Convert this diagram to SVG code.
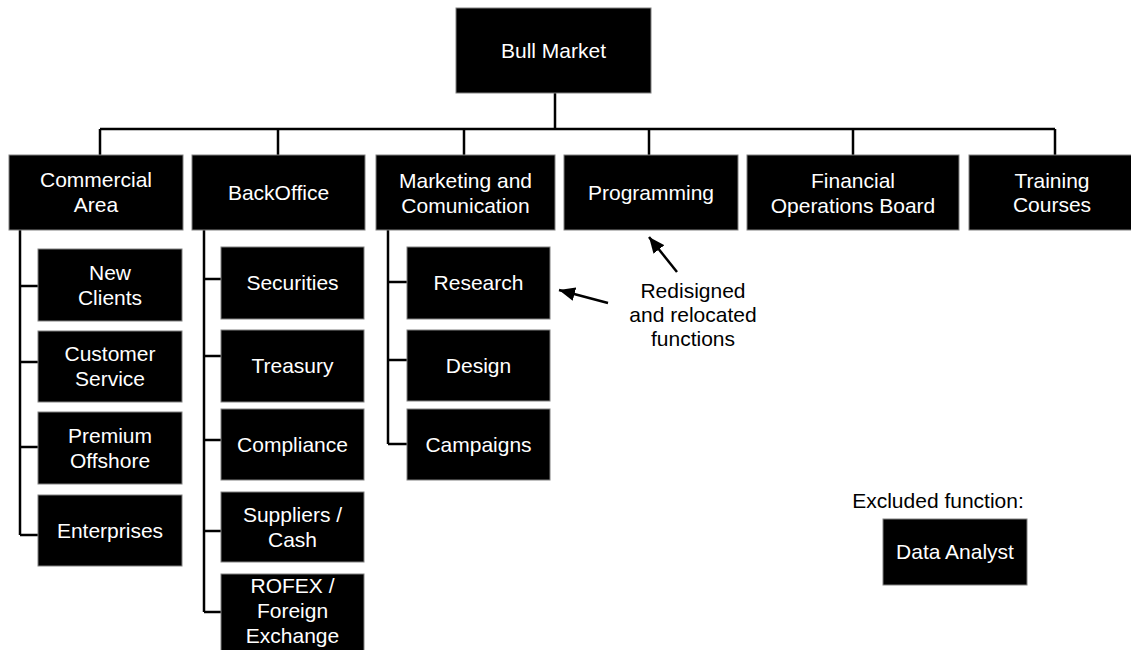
<svg xmlns="http://www.w3.org/2000/svg" width="1131" height="650" viewBox="0 0 1131 650">
<style>
.box{fill:#000;stroke:#808080;stroke-width:1}
.t{fill:#fff;font-family:"Liberation Sans",Arial,sans-serif;font-size:21px;text-anchor:middle}
.k{fill:#000;font-family:"Liberation Sans",Arial,sans-serif;font-size:21px;text-anchor:middle}
.ln{fill:none;stroke:#000;stroke-width:2.5}
</style>
<defs>
<marker id="ah" markerUnits="userSpaceOnUse" markerWidth="17" markerHeight="14" refX="16" refY="7" orient="auto">
<path d="M0,0 L16,7 L0,14 z" fill="#000"/>
</marker>
</defs>
<rect width="1131" height="650" fill="#fff"/>
<g id="connectors">
<path class="ln" d="M555,93 V129 M100,129 H1055 M100,129 V155 M278,129 V155 M464,129 V155 M649,129 V155 M853,129 V155 M1055,129 V155"/>
<path class="ln" d="M20,230 V535 M20,286 H38 M20,362 H38 M20,447 H38 M20,535 H38"/>
<path class="ln" d="M204,230 V612 M204,279 H221 M204,356 H221 M204,440 H221 M204,531 H221 M204,612 H221"/>
<path class="ln" d="M388,230 V444 M388,282 H407 M388,360 H407 M388,444 H407"/>
<line class="ln" x1="608" y1="303" x2="559" y2="290" marker-end="url(#ah)"/>
<line class="ln" x1="677" y1="272" x2="649" y2="237" marker-end="url(#ah)"/>
</g>
<g id="bull-market"><rect class="box" x="456" y="8" width="195" height="85"/><text class="t" x="553.5" y="58">Bull Market</text></g>
<g id="commercial-area"><rect class="box" x="9" y="155" width="174" height="75"/><text class="t" x="96" y="187">Commercial</text><text class="t" x="96" y="212">Area</text></g>
<g id="backoffice"><rect class="box" x="192" y="155" width="173" height="75"/><text class="t" x="278.5" y="200">BackOffice</text></g>
<g id="marketing"><rect class="box" x="376" y="155" width="179" height="75"/><text class="t" x="465.5" y="188">Marketing and</text><text class="t" x="465.5" y="213">Comunication</text></g>
<g id="programming"><rect class="box" x="564" y="155" width="174" height="75"/><text class="t" x="651" y="200">Programming</text></g>
<g id="financial"><rect class="box" x="747" y="155" width="212" height="75"/><text class="t" x="853" y="188">Financial</text><text class="t" x="853" y="213">Operations Board</text></g>
<g id="training"><rect class="box" x="969" y="155" width="170" height="75"/><text class="t" x="1052" y="188">Training</text><text class="t" x="1052" y="212">Courses</text></g>
<g id="new-clients"><rect class="box" x="38" y="249" width="144" height="72"/><text class="t" x="110" y="280">New</text><text class="t" x="110" y="305">Clients</text></g>
<g id="customer-service"><rect class="box" x="38" y="331" width="144" height="71"/><text class="t" x="110" y="361">Customer</text><text class="t" x="110" y="386">Service</text></g>
<g id="premium-offshore"><rect class="box" x="38" y="412" width="144" height="72"/><text class="t" x="110" y="443">Premium</text><text class="t" x="110" y="468">Offshore</text></g>
<g id="enterprises"><rect class="box" x="38" y="495" width="144" height="71"/><text class="t" x="110" y="538">Enterprises</text></g>
<g id="securities"><rect class="box" x="221" y="247" width="143" height="72"/><text class="t" x="292.5" y="290">Securities</text></g>
<g id="treasury"><rect class="box" x="221" y="330" width="143" height="72"/><text class="t" x="292.5" y="373">Treasury</text></g>
<g id="compliance"><rect class="box" x="221" y="409" width="143" height="71"/><text class="t" x="292.5" y="452">Compliance</text></g>
<g id="suppliers-cash"><rect class="box" x="221" y="492" width="143" height="70"/><text class="t" x="292.5" y="522">Suppliers /</text><text class="t" x="292.5" y="547">Cash</text></g>
<g id="rofex"><rect class="box" x="221" y="574" width="143" height="90"/><text class="t" x="292.5" y="593">ROFEX /</text><text class="t" x="292.5" y="618">Foreign</text><text class="t" x="292.5" y="643">Exchange</text></g>
<g id="research"><rect class="box" x="407" y="247" width="143" height="72"/><text class="t" x="478.5" y="290">Research</text></g>
<g id="design"><rect class="box" x="407" y="330" width="143" height="71"/><text class="t" x="478.5" y="373">Design</text></g>
<g id="campaigns"><rect class="box" x="407" y="409" width="143" height="71"/><text class="t" x="478.5" y="452">Campaigns</text></g>
<g id="note-redesigned"><text class="k" x="693" y="298">Redisigned</text><text class="k" x="693" y="322">and relocated</text><text class="k" x="693" y="346">functions</text></g>
<g id="excluded-label"><text class="k" x="938" y="508">Excluded function:</text></g>
<g id="data-analyst"><rect class="box" x="883" y="519" width="144" height="66"/><text class="t" x="955" y="559">Data Analyst</text></g>
</svg>
